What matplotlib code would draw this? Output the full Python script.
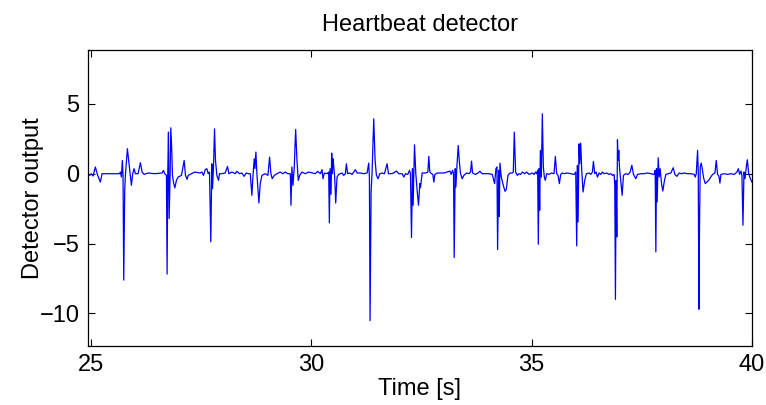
import matplotlib
matplotlib.use("Agg")
import matplotlib.pyplot as plt
import numpy as np

plt.rcParams['font.family'] = ['Liberation Sans', 'DejaVu Sans']

# --- data (time [s], detector output) ---
seg_a_t = [24.932, 24.970, 25.008, 25.046, 25.099, 25.144, 25.212, 25.250, 25.652, 25.667,
           25.690, 25.712, 25.727, 25.743, 25.765, 25.780, 25.826, 25.871, 25.917, 25.947,
           25.977, 26.008, 26.068, 26.121, 26.159, 26.205, 26.296, 26.447, 26.614, 26.644,
           26.674, 26.712, 26.727, 26.742, 26.758, 26.773, 26.796, 26.811, 26.833, 26.848,
           26.871, 26.902, 26.939, 26.977, 27.053, 27.114, 27.144, 27.182, 27.205, 27.280,
           27.356]
seg_a_v = [0.0, -0.12, 0.0, -0.17, 0.48, -0.05, -0.60, 0.0, 0.0, 0.12,
           -0.24, 0.95, -0.12, -7.62, -1.19, -0.12, 1.79, 0.48, -0.83, 0.0,
           0.36, 0.0, 0.0, 0.79, 0.12, -0.05, 0.05, 0.0, 0.05, 0.24,
           0.0, -0.12, -7.19, 0.0, 2.98, -3.21, 0.0, 3.29, 1.67, -0.12,
           -0.60, -1.02, -0.48, -0.24, -0.12, 0.95, -0.12, -0.40, -0.12, 0.0,
           0.12]

seg_b_t = [27.477, 27.515, 27.553, 27.591, 27.629, 27.659, 27.689, 27.719, 27.742, 27.757,
           27.780, 27.803, 27.825, 27.856, 27.894, 27.916, 27.969, 28.045, 28.098, 28.129,
           28.197, 28.273, 28.310, 28.371, 28.424, 28.477, 28.523, 28.576, 28.614, 28.651,
           28.674, 28.704, 28.719, 28.742, 28.765, 28.810, 28.841, 28.879, 28.954, 29.015,
           29.053, 29.083, 29.113, 29.159, 29.220, 29.295, 29.356, 29.409, 29.462, 29.523,
           29.538, 29.560, 29.583, 29.613, 29.644, 29.674, 29.704, 29.735, 29.788, 29.863,
           29.939, 30.091]
seg_b_v = [0.05, 0.12, -0.12, 0.29, 0.36, 0.0, 0.12, -4.88, 0.71, -1.07,
           0.48, 3.21, 0.95, -0.12, -0.48, 0.0, 0.0, 0.05, 0.52, 0.0,
           0.12, 0.0, 0.17, 0.0, 0.05, -0.19, 0.05, 0.0, 0.0, -1.55,
           -0.24, 1.07, 0.36, 1.55, 0.0, -2.10, -0.71, -0.12, 0.0, -0.12,
           1.19, 0.0, -0.36, -0.12, 0.0, 0.12, 0.0, 0.12, 0.0, 0.0,
           -2.26, 0.48, -0.83, 0.48, 3.17, 0.95, -0.48, -0.12, 0.12, 0.0,
           0.12, 0.0]

seg_c_t = [30.144, 30.205, 30.242, 30.265, 30.295, 30.356, 30.394, 30.409, 30.424, 30.447,
           30.462, 30.477, 30.492, 30.507, 30.530, 30.553, 30.583, 30.621, 30.697, 30.735,
           30.773, 30.795, 30.825, 30.871, 30.924, 30.962, 31.000, 31.038, 31.113, 31.189,
           31.265, 31.303, 31.318, 31.333, 31.356, 31.379, 31.416, 31.447, 31.477, 31.515,
           31.553, 31.606, 31.659, 31.719, 31.750, 31.795, 31.871, 31.932, 31.985, 32.061,
           32.098, 32.136, 32.189, 32.227, 32.250, 32.273, 32.295, 32.310, 32.341, 32.371,
           32.401, 32.432, 32.462]
seg_c_v = [0.17, 0.0, 0.29, -0.36, 0.05, 0.0, 0.12, -3.52, 0.36, -1.48,
           1.48, 0.0, 1.07, 0.60, -0.24, -2.10, -0.24, -0.05, 0.05, -0.12,
           0.0, 0.71, 0.0, 0.05, -0.05, 0.12, 0.29, 0.05, 0.05, 0.0,
           0.05, 0.76, -0.24, -10.52, -1.31, 0.12, 3.93, 0.95, -0.12, -0.36,
           0.0, 0.05, 0.0, 0.71, 0.0, 0.0, 0.05, 0.19, 0.0, 0.0,
           -0.24, 0.0, -0.05, 0.24, 0.0, -4.57, 0.36, -2.26, 2.07, 0.0,
           -1.19, -2.26, -0.71]

seg_d_t = [32.477, 32.515, 32.591, 32.644, 32.666, 32.689, 32.727, 32.757, 32.780, 32.803,
           32.856, 32.931, 33.007, 33.083, 33.144, 33.174, 33.204, 33.227, 33.242, 33.265,
           33.280, 33.303, 33.333, 33.363, 33.386, 33.424, 33.462, 33.522, 33.575, 33.613,
           33.636, 33.659, 33.689, 33.727, 33.780, 33.825, 33.878, 33.954, 34.030, 34.106,
           34.159, 34.189, 34.212, 34.227, 34.250, 34.265, 34.280, 34.310, 34.356, 34.394,
           34.424, 34.462, 34.507, 34.560, 34.583, 34.606, 34.636, 34.674, 34.712, 34.750,
           34.788, 34.841, 34.886, 34.939]
seg_d_v = [-1.0, 0.05, 0.05, 0.12, 1.24, 0.12, 0.0, -0.05, -0.60, -0.05,
           0.05, 0.05, 0.05, 0.12, 0.19, -0.05, 0.24, 0.0, -6.00, 0.36,
           -0.95, 0.48, 2.02, 0.71, 0.0, -0.36, -0.12, 0.05, 0.0, 0.12,
           0.90, 0.05, 0.0, -0.05, 0.05, 0.17, 0.0, 0.0, 0.0, -0.05,
           -0.71, 0.36, 0.48, -5.43, 0.24, -3.05, 0.76, -0.24, -0.83, -1.26,
           -1.14, -0.12, 0.05, 0.05, 0.12, 2.98, 0.12, -0.12, 0.0, -0.05,
           0.12, 0.0, 0.12, -0.05]

seg_e_t = [34.977, 35.015, 35.053, 35.091, 35.113, 35.136, 35.151, 35.166, 35.182, 35.197,
           35.219, 35.242, 35.265, 35.288, 35.310, 35.341, 35.394, 35.447, 35.507, 35.538,
           35.568, 35.598, 35.629, 35.659, 35.697, 35.735, 35.810, 35.886, 35.962, 36.000,
           36.022, 36.038, 36.053, 36.075, 36.091, 36.113, 36.136, 36.166, 36.204, 36.242,
           36.303, 36.341, 36.379, 36.401, 36.432, 36.462, 36.492, 36.530, 36.568, 36.606,
           36.644, 36.704, 36.757, 36.795, 36.833, 36.871, 36.886, 36.901, 36.916, 36.932,
           36.947, 36.962, 36.977, 36.992, 37.022, 37.053, 37.083, 37.136, 37.189, 37.235,
           37.273, 37.310, 37.363, 37.401, 37.477]
seg_e_v = [0.0, 0.05, -0.05, 0.12, 0.0, 0.24, -5.05, 0.36, -2.62, 1.67,
           -0.24, 4.29, 0.48, -0.24, -0.48, 0.0, -0.05, 0.05, 0.0, 1.24,
           0.0, -0.12, -0.71, -0.05, 0.05, 0.0, 0.05, 0.0, -0.05, 0.12,
           -5.17, 0.60, -3.45, 2.14, 0.71, 2.19, 0.24, -1.31, -0.48, 0.0,
           0.05, -0.05, 0.12, 0.88, 0.0, 0.12, -0.24, 0.05, -0.05, 0.12,
           0.0, 0.05, -0.05, 0.0, -0.12, -0.05, -0.90, -9.00, -0.48, -4.52,
           2.43, 0.95, 1.67, 0.48, -0.48, -1.55, -0.12, 0.0, -0.05, 0.12,
           0.60, -0.05, -0.36, -0.05, 0.0]

seg_f_t = [37.553, 37.629, 37.704, 37.780, 37.803, 37.818, 37.833, 37.848, 37.871, 37.894,
           37.916, 37.947, 37.977, 38.007, 38.045, 38.098, 38.159, 38.212, 38.250, 38.295,
           38.348, 38.401, 38.462, 38.538, 38.613, 38.689, 38.712, 38.735, 38.765, 38.780,
           38.795, 38.810, 38.825, 38.848, 38.871, 38.901, 38.939, 38.977, 39.015, 39.053,
           39.106, 39.159, 39.189, 39.219, 39.250, 39.272, 39.295, 39.371, 39.447, 39.522,
           39.598, 39.659, 39.689, 39.719, 39.750, 39.772, 39.795, 39.818, 39.841, 39.871,
           39.894, 39.924, 39.962, 40.000]
seg_f_v = [0.0, 0.05, 0.0, -0.05, 0.24, -5.60, 0.36, -2.02, 1.14, -0.24,
           0.36, -0.71, -1.24, -0.60, -0.05, 0.0, 0.05, 0.43, -0.05, -0.19,
           0.05, 0.0, 0.05, 0.0, 0.0, -0.05, -0.24, 0.0, 1.67, 0.24,
           -9.71, -3.45, 0.48, 0.76, 0.36, -0.29, -0.71, -0.60, -0.48, -0.29,
           -0.05, 0.05, 0.95, -0.05, -0.19, -0.67, -0.05, 0.0, -0.05, 0.0,
           -0.05, 0.12, 0.36, -0.05, 0.19, -0.12, -3.69, 0.12, -0.36, 0.48,
           1.00, 0.05, -0.36, -0.60]

x_ticks = [25, 30, 35, 40]
y_ticks = [-10, -5, 0, 5]
title_text = "Heartbeat detector"
x_label = "Time [s]"
y_label = "Detector output"

time_s = np.concatenate([seg_a_t, seg_b_t, seg_c_t, seg_d_t, seg_e_t, seg_f_t])
output = np.concatenate([seg_a_v, seg_b_v, seg_c_v, seg_d_v, seg_e_v, seg_f_v])

W, H = 766, 405
fig = plt.figure(figsize=(W / 100, H / 100), dpi=100)
ax = fig.add_axes([88 / W, (H - 346) / H, 664 / W, 296 / H])

ax.plot(time_s, output, color='#0000ff', linewidth=0.9)

ax.set_xlim(24.932, 40.0)
ax.set_ylim(-12.34, 8.86)
ax.set_xticks(x_ticks)
ax.set_yticks(y_ticks)

fs = 17
ax.tick_params(direction='in', top=True, right=True, length=5, width=0.8,
               labelsize=fs, pad=6)
for sp in ax.spines.values():
    sp.set_linewidth(0.9)

ax.set_title(title_text, fontsize=fs, pad=14)
ax.set_xlabel(x_label, fontsize=fs, labelpad=1)
ax.set_ylabel(y_label, fontsize=fs, labelpad=-3)

fig.savefig("out.png", dpi=100)
